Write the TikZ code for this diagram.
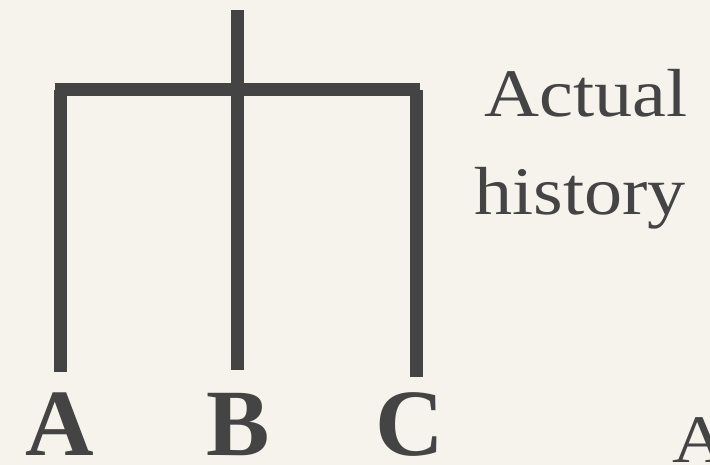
\documentclass[tikz,border=0pt]{standalone}
\usepackage{fontspec}
\setmainfont{Liberation Serif}
\newfontfamily\notefont[FakeStretch=1.12]{Liberation Serif}
\usetikzlibrary{positioning}
\definecolor{paper}{HTML}{F6F3EC}
\definecolor{ink}{HTML}{444444}
\begin{document}
\begin{tikzpicture}[x=1pt, y=-1pt]
  \tikzset{BranchStyle/.style = {
  draw = ink,
  line width = 13pt}}
  \tikzset{LeafStyle/.style = {
  text = ink,
  inner sep = 0pt,
  text depth = 0pt,
  font = \fontsize{95}{95}\selectfont\bfseries}}
  \tikzset{NoteStyle/.style = {
  text = ink,
  inner sep = 0pt,
  font = \notefont\fontsize{68}{68}\selectfont}}
  \clip (0,0) rectangle (710,465);
  \fill[paper] (0,0) rectangle (710,465);
  \coordinate (root) at (237,10);
  \coordinate (join) at (237,90);
  \coordinate (barL) at (55,90);
  \coordinate (barR) at (420,90);
  \coordinate (topA) at (60,90);
  \coordinate (topC) at (416,90);
  \coordinate (endA) at (60,372);
  \coordinate (endB) at (237,370);
  \coordinate (endC) at (416,377);
  \draw[BranchStyle] (root) -- (join);
  \draw[BranchStyle] (barL) -- (barR);
  \draw[BranchStyle] (topA) -- (endA);
  \draw[BranchStyle] (join) -- (endB);
  \draw[BranchStyle] (topC) -- (endC);
  \node[LeafStyle, anchor=base] (A) at (60,455) {A};
  \node[LeafStyle, anchor=base] (B) at (238,455) {B};
  \node[LeafStyle, anchor=base] (C) at (410,455) {C};
  \node[NoteStyle, anchor=base] (actual) at (586,117) {Actual};
  \node[NoteStyle, anchor=base] (history) at (580,215) {history};
  \node[NoteStyle, anchor=base west] (next) at (672,462) {A};
\end{tikzpicture}
\end{document}
